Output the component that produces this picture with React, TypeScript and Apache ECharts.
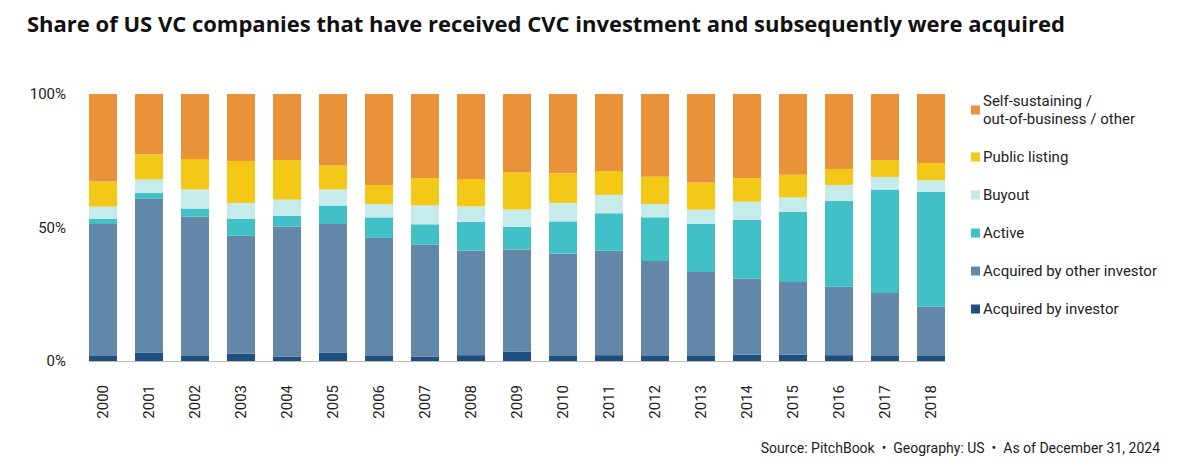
import React, { useEffect, useRef } from "react";
import * as echarts from "echarts";

const years = [
  "2000", "2001", "2002", "2003", "2004", "2005", "2006", "2007", "2008", "2009",
  "2010", "2011", "2012", "2013", "2014", "2015", "2016", "2017", "2018",
];

// shares in %, bottom segment first
const acquiredByInvestor = [1.9, 3.2, 1.9, 2.7, 1.6, 3.2, 1.9, 1.6, 2.2, 3.5, 1.9, 2.2, 1.9, 1.9, 2.4, 2.4, 2.2, 1.9, 1.9];
const acquiredByOther = [49.4, 57.5, 52.2, 44.2, 48.7, 48.1, 44.2, 42.0, 39.2, 38.3, 38.3, 39.1, 35.6, 31.4, 28.4, 27.2, 25.6, 23.6, 18.4];
const active = [1.9, 2.2, 3.0, 6.3, 4.1, 6.9, 7.7, 7.6, 10.7, 8.4, 12.1, 14.0, 16.3, 18.1, 22.0, 26.2, 32.1, 38.7, 43.0];
const buyout = [4.6, 5.1, 7.2, 6.0, 6.1, 6.1, 5.0, 7.1, 5.8, 6.5, 6.9, 6.9, 5.0, 5.3, 6.9, 5.5, 6.0, 4.7, 4.4];
const publicListing = [9.4, 9.3, 11.4, 15.7, 14.8, 8.9, 7.1, 10.2, 10.3, 14.0, 11.1, 9.0, 10.2, 10.2, 8.8, 8.5, 6.0, 6.4, 6.5];
const selfSustaining = [32.8, 22.7, 24.3, 25.1, 24.7, 26.8, 34.1, 31.5, 31.8, 29.3, 29.7, 28.8, 31.0, 33.1, 31.5, 30.2, 28.1, 24.7, 25.8];

const yTicks = [0, 50, 100];

const SELF_NAME = "Self-sustaining /\nout-of-business / other";

const seriesDefs = [
  { name: "Acquired by investor", data: acquiredByInvestor, color: "#1f4f7f" },
  { name: "Acquired by other investor", data: acquiredByOther, color: "#6387a8" },
  { name: "Active", data: active, color: "#41c0c7" },
  { name: "Buyout", data: buyout, color: "#c5ebea" },
  { name: "Public listing", data: publicListing, color: "#f3c817" },
  { name: SELF_NAME, data: selfSustaining, color: "#e9923a" },
];

const FONT = "Roboto, 'Noto Sans', sans-serif";
const TITLE_FONT = "'Open Sans', Roboto, sans-serif";
const BAR_W = 28;

export default function App() {
  const chartRef = useRef<HTMLDivElement>(null);

  useEffect(() => {
    if (!chartRef.current) return;
    const chart = echarts.init(chartRef.current, undefined, { renderer: "svg" });

    const sourceNote = {
      type: "text",
      right: 40,
      top: 441,
      style: {
        text: "Source: PitchBook  •  Geography: US  •  As of December 31, 2024",
        fontFamily: FONT,
        fontSize: 14,
        fill: "#222",
      },
    };

    const option: echarts.EChartsOption = {
      animation: false,
      backgroundColor: "#ffffff",
      title: {
        text: "Share of US VC companies that have received CVC investment and subsequently were acquired",
        left: 27,
        top: 12,
        padding: 0,
        textStyle: { fontFamily: TITLE_FONT, fontSize: 22, fontWeight: "bold", color: "#111" },
      },
      legend: {
        orient: "vertical",
        left: 966,
        top: 87,
        itemWidth: 9,
        itemHeight: 9,
        itemGap: 20,
        icon: "rect",
        data: [...seriesDefs].reverse().map((s) => s.name),
        textStyle: { fontFamily: FONT, fontSize: 15, color: "#222", lineHeight: 18, padding: [0, 0, 0, -2] },
      },
      grid: { left: 80, width: 874, top: 94, bottom: 110 },
      xAxis: {
        type: "category",
        data: years,
        axisLine: { show: false },
        axisTick: { show: false },
        axisLabel: {
          rotate: 90,
          margin: 24,
          fontFamily: FONT,
          fontSize: 15,
          color: "#222",
        },
      },
      yAxis: {
        type: "value",
        min: yTicks[0],
        max: yTicks[yTicks.length - 1],
        interval: yTicks[1] - yTicks[0],
        splitLine: { show: false },
        axisLine: { show: false },
        axisTick: { show: false },
        axisLabel: {
          formatter: "{value}%",
          margin: 14,
          fontFamily: FONT,
          fontSize: 15,
          color: "#222",
        },
      },
      series: seriesDefs.map((s) => ({
        name: s.name,
        type: "bar",
        stack: "total",
        barWidth: BAR_W,
        data: s.data,
        itemStyle: { color: s.color },
      })),
      graphic: [sourceNote],
    };

    chart.setOption(option);

    // baseline from the left edge of the first bar to the right edge of the last
    const xFirst = chart.convertToPixel({ xAxisIndex: 0 }, years[0]) as number;
    const xLast = chart.convertToPixel({ xAxisIndex: 0 }, years[years.length - 1]) as number;
    const yZero = chart.convertToPixel({ yAxisIndex: 0 }, 0) as number;
    chart.setOption({
      graphic: [
        sourceNote,
        {
          type: "line",
          z: 10,
          shape: { x1: xFirst - BAR_W / 2, y1: yZero + 0.5, x2: xLast + BAR_W / 2, y2: yZero + 0.5 },
          style: { stroke: "#bbbbbb", lineWidth: 1 },
        },
      ],
    });

    return () => {
      chart.dispose();
    };
  }, []);

  return (
    <div
      ref={chartRef}
      style={{ position: "fixed", left: 0, top: 0, width: 1200, height: 471 }}
    />
  );
}
